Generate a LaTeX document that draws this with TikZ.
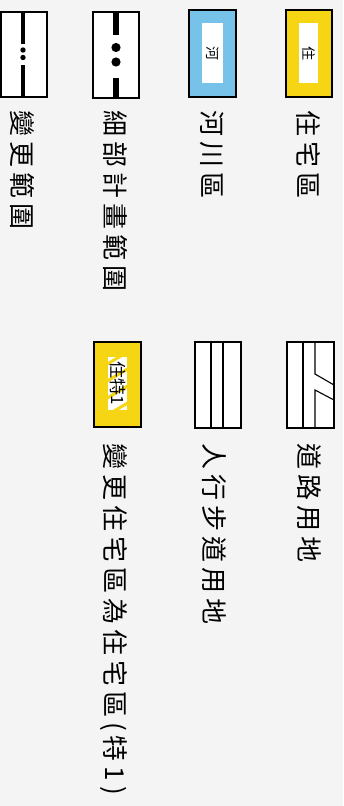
\documentclass[tikz,border=0pt]{standalone}
\usepackage{fontspec}
\newfontfamily\tcsp[LetterSpace=19]{Noto Sans CJK TC}
\newfontfamily\tcs{Noto Sans CJK TC}
\definecolor{bg}{RGB}{244,244,244}
\definecolor{zyel}{RGB}{246,214,20}
\definecolor{zblue}{RGB}{118,194,232}
\tikzset{
  lbl/.style={rotate=-90, anchor=west, inner sep=0pt, font=\tcsp\fontsize{26}{26}\selectfont},
  sym/.style={rotate=-90, inner sep=0pt, font=\tcs\fontsize{14}{14}\selectfont},
  frame/.style={draw=black, line width=1.2pt},
  thin/.style={draw=black, line width=1.1pt},
}
\begin{document}
\begin{tikzpicture}[x=1pt,y=-1pt]
\fill[bg] (0,0) rectangle (343,806);
\useasboundingbox (0,0) rectangle (343,806);
% 住宅區
\fill[zyel] (286,10) rectangle (332,97);
\fill[white] (299,23) rectangle (318,83);
\draw[frame] (286,10) rectangle (332,97);
\node[sym] (s1) at (308.5,53) {住};
\node[lbl] (t1) at (308.5,110.5) {住宅區};
% 河川區
\fill[zblue] (189,10) rectangle (236,97);
\fill[white] (202,23) rectangle (223,83);
\draw[frame] (189,10) rectangle (236,97);
\node[sym] (s2) at (212.5,53) {河};
\node[lbl] (t2) at (212,110.5) {河川區};
% 細部計畫範圍
\fill[white] (93,12) rectangle (139,98);
\draw[black, line width=6.5pt] (116,12) -- (116,35);
\draw[black, line width=6.5pt] (116,78) -- (116,98);
\fill[black] (116,47.5) circle (4.6);
\fill[black] (116,62) circle (4.6);
\draw[frame] (93,12) rectangle (139,98);
\node[lbl] (t3) at (115,110.5) {細部計畫範圍};
% 變更範圍
\fill[white] (1,12) rectangle (47,97);
\draw[black, line width=3.8pt] (23,12) -- (23,44);
\draw[black, line width=3.8pt] (23,65) -- (23,97);
\fill[black] (23,50) circle (2.7);
\fill[black] (23,57.5) circle (2.7);
\draw[frame] (1,12) rectangle (47,97);
\node[lbl] (t4) at (22.5,110.5) {變更範圍};
% 道路用地
\fill[white] (287,342) rectangle (334,428);
\draw[thin] (303,342) -- (303,428);
\draw[thin] (315,342) -- (315,374) -- (334,385);
\draw[thin] (334,400) -- (315,390) -- (315,428);
\draw[frame] (287,342) rectangle (334,428);
\node[lbl] (t5) at (309,443.5) {道路用地};
% 人行步道用地
\fill[white] (195,342) rectangle (241,428);
\draw[thin] (211,342) -- (211,428);
\draw[thin] (223,342) -- (223,428);
\draw[frame] (195,342) rectangle (241,428);
\node[lbl] (t6) at (214.5,443.5) {人行步道用地};
% 住特1
\fill[zyel] (94,342) rectangle (141,427);
\fill[white] (108,357) rectangle (127,410);
\begin{scope}
\clip (108,357) rectangle (127,410);
\foreach \yy in {366,383,400,417}{
  \draw[zyel, line width=3pt] (104,\yy) -- (131,\yy-16);
}
\end{scope}
\draw[frame] (94,342) rectangle (141,427);
\node[sym, font=\tcs\fontsize{17}{17}\selectfont] (s7) at (117.5,383.5) {住特1};
\node[lbl] (t7) at (113.5,443.5) {變更住宅區為住宅區(特1)};
\end{tikzpicture}
\end{document}
